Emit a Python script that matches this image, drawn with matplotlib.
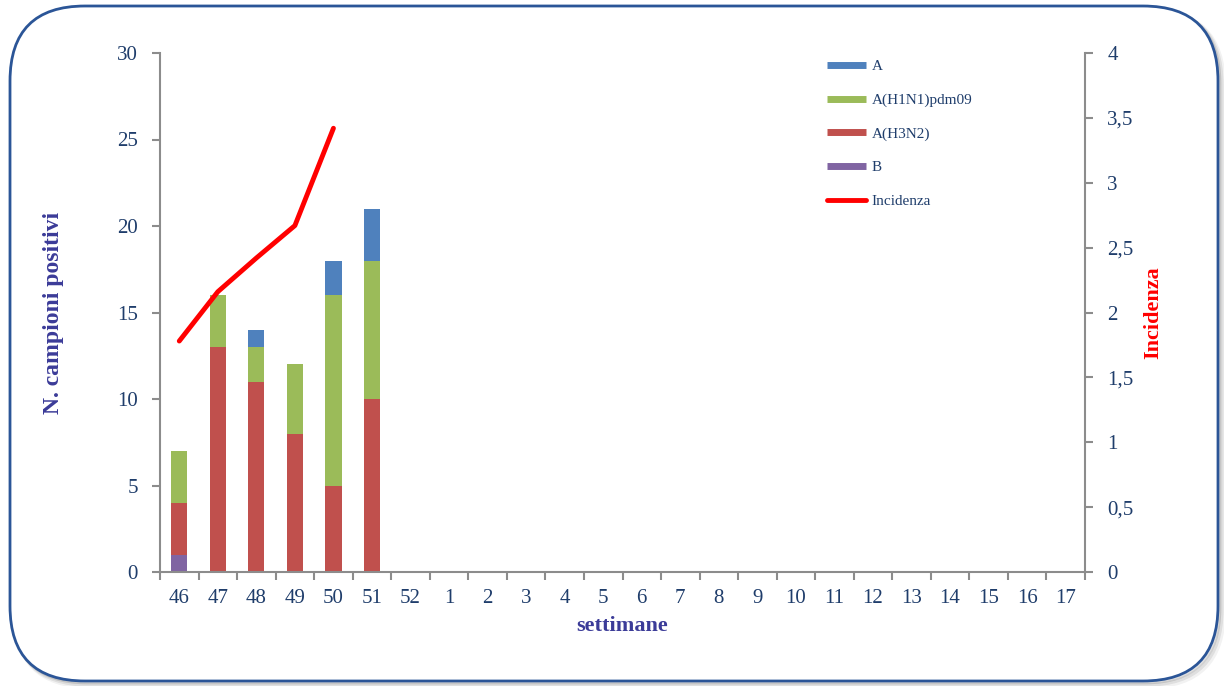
import matplotlib
matplotlib.use("Agg")
import matplotlib.pyplot as plt
import numpy as np
from matplotlib.patches import FancyBboxPatch
from matplotlib.lines import Line2D

weeks = ["46", "47", "48", "49", "50", "51", "52", "1", "2", "3", "4", "5", "6",
         "7", "8", "9", "10", "11", "12", "13", "14", "15", "16", "17"]
B_vals    = [1, 0, 0, 0, 0, 0] + [0] * 18
H3N2_vals = [3, 13, 11, 8, 5, 10] + [0] * 18
H1N1_vals = [3, 3, 2, 4, 11, 8] + [0] * 18
A_vals    = [0, 0, 1, 0, 2, 3] + [0] * 18
incidenza = [1.78, 2.16, 2.42, 2.67, 3.42]

c_A = "#4F81BD"
c_H1 = "#9BBB59"
c_H3 = "#C0504D"
c_B = "#8064A2"
c_line = "#FF0000"
txt = "#1F3D6B"
lab = "#3B3B98"
spine_c = "#8C8C8C"

plt.rcParams["font.family"] = ["Liberation Serif", "DejaVu Serif"]

fig = plt.figure(figsize=(12.24, 6.86), dpi=100)

# background frame
bg = fig.add_axes([0, 0, 1, 1])
bg.set_xlim(0, 1224)
bg.set_ylim(686, 0)
bg.axis("off")
for i, a in enumerate([0.05, 0.08, 0.12]):
    off = 5 - i * 1.5
    bg.add_patch(FancyBboxPatch((10 + off, 6 + off), 1208, 675,
                                boxstyle="round,pad=0,rounding_size=75",
                                fc="none", ec=(0, 0, 0, a), lw=4 - i))
bg.add_patch(FancyBboxPatch((10, 6), 1208, 675,
                            boxstyle="round,pad=0,rounding_size=75",
                            fc="white", ec="#2B5597", lw=2))

ax = fig.add_axes([160 / 1224, 1 - 572 / 686, 925 / 1224, (572 - 53) / 686])
x = np.arange(len(weeks))
w = 0.42
b = np.array(B_vals, float)
h3 = np.array(H3N2_vals, float)
h1 = np.array(H1N1_vals, float)
aa = np.array(A_vals, float)
ax.bar(x, b, w, color=c_B, zorder=2)
ax.bar(x, h3, w, bottom=b, color=c_H3, zorder=2)
ax.bar(x, h1, w, bottom=b + h3, color=c_H1, zorder=2)
ax.bar(x, aa, w, bottom=b + h3 + h1, color=c_A, zorder=2)

ax.set_xlim(-0.5, len(weeks) - 0.5)
ax.set_ylim(0, 30)
ax.set_yticks(range(0, 31, 5))
ax.set_xticks(x)
ax.set_xticklabels(weeks)
ax.set_xticks(np.arange(-0.5, len(weeks), 1), minor=True)
ax.tick_params(axis="x", which="major", length=0, pad=12, labelsize=15, labelcolor=txt)
ax.tick_params(axis="x", which="minor", length=6, color=spine_c, width=1.5)
ax.tick_params(axis="y", length=6, color=spine_c, width=1.5, labelsize=15,
               labelcolor=txt, pad=10)
for s in ["top", "right"]:
    ax.spines[s].set_visible(False)
for s in ["left", "bottom"]:
    ax.spines[s].set_color(spine_c)
    ax.spines[s].set_linewidth(1.5)
ax.set_ylabel("N. campioni positivi", fontsize=17, fontweight="bold", color=lab, labelpad=38)
ax.set_xlabel("settimane", fontsize=16, fontweight="bold", color=lab, labelpad=6)

ax2 = ax.twinx()
ax2.set_ylim(0, 4)
ax2.set_yticks([0, 0.5, 1, 1.5, 2, 2.5, 3, 3.5, 4])
ax2.set_yticklabels(["0", "0,5", "1", "1,5", "2", "2,5", "3", "3,5", "4"])
ax2.plot(x[:len(incidenza)], incidenza, color=c_line, lw=3.5, solid_capstyle="round", zorder=3)
for s in ["top", "left", "bottom"]:
    ax2.spines[s].set_visible(False)
ax2.spines["right"].set_color(spine_c)
ax2.spines["right"].set_linewidth(1.5)
ax2.tick_params(axis="y", length=6, color=spine_c, width=1.5, labelsize=15,
                labelcolor=txt, pad=10)
ax2.set_ylabel("Incidenza", fontsize=16, fontweight="bold", color=c_line, labelpad=7)

handles = [Line2D([], [], color=c_A, lw=5, solid_capstyle="butt"),
           Line2D([], [], color=c_H1, lw=5, solid_capstyle="butt"),
           Line2D([], [], color=c_H3, lw=5, solid_capstyle="butt"),
           Line2D([], [], color=c_B, lw=5, solid_capstyle="butt"),
           Line2D([], [], color=c_line, lw=3.5, solid_capstyle="round")]
labels = ["A", "A(H1N1)pdm09", "A(H3N2)", "B", "Incidenza"]
leg = ax2.legend(handles, labels, loc="upper left",
                 bbox_to_anchor=(813 / 1224, 1 - 46 / 686), bbox_transform=fig.transFigure,
                 frameon=False, fontsize=11, labelspacing=1.3, handlelength=2.6,
                 handletextpad=0.35, labelcolor=txt)

fig.savefig("out.png", dpi=100)
